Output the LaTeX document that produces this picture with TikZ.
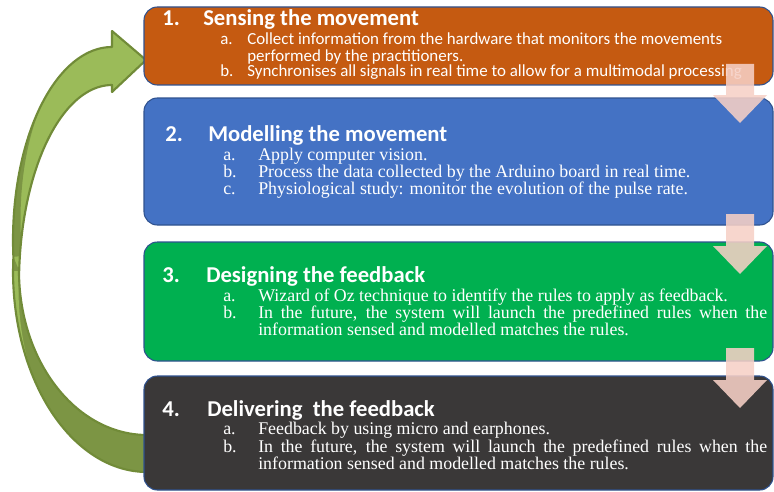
\documentclass[tikz,border=0pt]{standalone}
\usepackage{fontspec}
\setmainfont{Liberation Serif}
\newfontfamily\calfont{Carlito}
\begin{document}
\begin{tikzpicture}[x=0.75pt,y=-0.75pt,
  stage/.style={draw=boxline, line width=0.8pt, rounded corners=10pt, inner sep=0pt, minimum width=471.75pt},
  ttl/.style={anchor=base west, inner sep=0pt, text=white, font=\calfont\bfseries\fontsize{17}{19}\selectfont},
  itemC/.style={anchor=base west, inner sep=0pt, text=white, font=\calfont\fontsize{12.7}{14}\selectfont},
  itemS/.style={anchor=base west, inner sep=0pt, text=white, font=\fontsize{13.4}{15}\selectfont},
  flowarrow/.style={fill=pinkarrow, fill opacity=0.88, draw=none},
]
\definecolor{boxline}{RGB}{47,82,143}
\definecolor{orangebox}{RGB}{197,90,17}
\definecolor{bluebox}{RGB}{68,114,196}
\definecolor{greenbox}{RGB}{0,176,80}
\definecolor{darkbox}{RGB}{58,56,56}
\definecolor{pinkarrow}{RGB}{246,208,198}
\definecolor{lightolive}{RGB}{155,187,89}
\definecolor{darkolive}{RGB}{124,149,68}
\definecolor{oliveline}{RGB}{113,139,56}

\useasboundingbox (0,0) rectangle (774,492);

% curved return arrow (from box 4 back to box 1)
\def\arrowshape{(112,31) -- (146,60) -- (112,92) -- (112,85)
  -- plot[domain=270:183.5,samples=60,variable=\t] ({112+93*cos(\t)},{283+198*sin(\t)})
  -- plot[domain=180:90,samples=60,variable=\t] ({147+128*cos(\t)},{271+164*sin(\t)})
  -- (147,472)
  -- plot[domain=90:180,samples=60,variable=\t] ({147+134*cos(\t)},{271+201*sin(\t)})
  -- plot[domain=175:270,samples=60,variable=\t] ({112+99*cos(\t)},{240+193*sin(\t)})
  -- cycle}
\begin{scope}
  \clip \arrowshape;
  \fill[lightolive] (0,0) rectangle (150,492);
  % back face of the ribbon (lower part)
  \fill[darkolive] (147,472)
    -- plot[domain=90:180,samples=60,variable=\t] ({147+134*cos(\t)},{271+201*sin(\t)})
    -- (13.4,256.8) -- (19.3,271)
    -- plot[domain=180:90,samples=60,variable=\t] ({147+128*cos(\t)},{271+164*sin(\t)})
    -- cycle;
  % dark sliver on the outer side above the twist
  \fill[darkolive]
    plot[domain=175:225,samples=40,variable=\t] ({112+99*cos(\t)},{240+193*sin(\t)})
    -- plot[domain=225:175,samples=40,variable=\t] ({112+(99-9*(225-\t)/50)*cos(\t)},{240+(193-9*(225-\t)/50)*sin(\t)})
    -- cycle;
  % light sliver on the outer side below the twist
  \fill[lightolive]
    plot[domain=180:150,samples=40,variable=\t] ({147+134*cos(\t)},{271+201*sin(\t)})
    -- plot[domain=150:180,samples=40,variable=\t] ({147+(134-6*(\t-150)/30)*cos(\t)},{271+(201-6*(\t-150)/30)*sin(\t)})
    -- cycle;
\end{scope}
\draw[oliveline, line width=1.6pt, line join=round] \arrowshape;

% boxes
\node[stage, fill=orangebox, minimum height=58.5pt] (b1) at (458.5,46) {};
\node[stage, fill=bluebox, minimum height=95.25pt] (b2) at (458.5,161.5) {};
\node[stage, fill=greenbox, minimum height=89.25pt] (b3) at (458.5,301.5) {};
\node[stage, fill=darkbox, minimum height=85.5pt] (b4) at (458.5,433) {};

% box 1 text
\node[ttl] (t1n) at (162,26) {1.};
\node[ttl] (t1) at (203,26) {Sensing the movement};
\node[itemC] (l1a) at (220,45) {a.};
\node[itemC] (l1at) at (247,45) {Collect information from the hardware that monitors the movements};
\node[itemC] (l1at2) at (247,61) {performed by the practitioners.};
\node[itemC] (l1b) at (220,77) {b.};
\node[itemC] (l1bt) at (247,77) {Synchronises all signals in real time to allow for a multimodal processing};

% box 2 text
\node[ttl] (t2n) at (165,141) {2.};
\node[ttl] (t2) at (208,141) {Modelling the movement};
\node[itemS] (l2a) at (223,160) {a.};
\node[itemS] (l2at) at (258,160) {Apply computer vision.};
\node[itemS] (l2b) at (223,177) {b.};
\node[itemS] (l2bt) at (258,177) {Process the data collected by the Arduino board in real time.};
\node[itemS] (l2c) at (223,194) {c.};
\node[itemS] (l2ct) at (258,194) {Physiological study: monitor the evolution of the pulse rate.};

% box 3 text
\node[ttl] (t3n) at (162,282) {3.};
\node[ttl] (t3) at (206,282) {Designing the feedback};
\node[itemS] (l3a) at (223,301) {a.};
\node[itemS] (l3at) at (258,301) {Wizard of Oz technique to identify the rules to apply as feedback.};
\node[itemS] (l3b) at (223,318) {b.};
\node[itemS] (l3bt) at (258,318) {\makebox[381.75pt][s]{In the future, the system will launch the predefined rules when the}};
\node[itemS] (l3bt2) at (258,335) {information sensed and modelled matches the rules.};

% box 4 text
\node[ttl] (t4n) at (162,416) {4.};
\node[ttl] (t4) at (207,416) {Delivering\ \ the feedback};
\node[itemS] (l4a) at (223,434) {a.};
\node[itemS] (l4at) at (258,434) {Feedback by using micro and earphones.};
\node[itemS] (l4b) at (223,452) {b.};
\node[itemS] (l4bt) at (258,452) {\makebox[381.75pt][s]{In the future, the system will launch the predefined rules when the}};
\node[itemS] (l4bt2) at (258,469) {information sensed and modelled matches the rules.};

% pink flow arrows between boxes
\fill[flowarrow] (726,64) -- (754,64) -- (754,95) -- (767,95) -- (740,123) -- (713,95) -- (726,95) -- cycle;
\fill[flowarrow] (726,214) -- (754,214) -- (754,246) -- (767,246) -- (740,274) -- (713,246) -- (726,246) -- cycle;
\fill[flowarrow] (726,348) -- (754,348) -- (754,380) -- (767,380) -- (740,408) -- (713,380) -- (726,380) -- cycle;
\end{tikzpicture}
\end{document}
